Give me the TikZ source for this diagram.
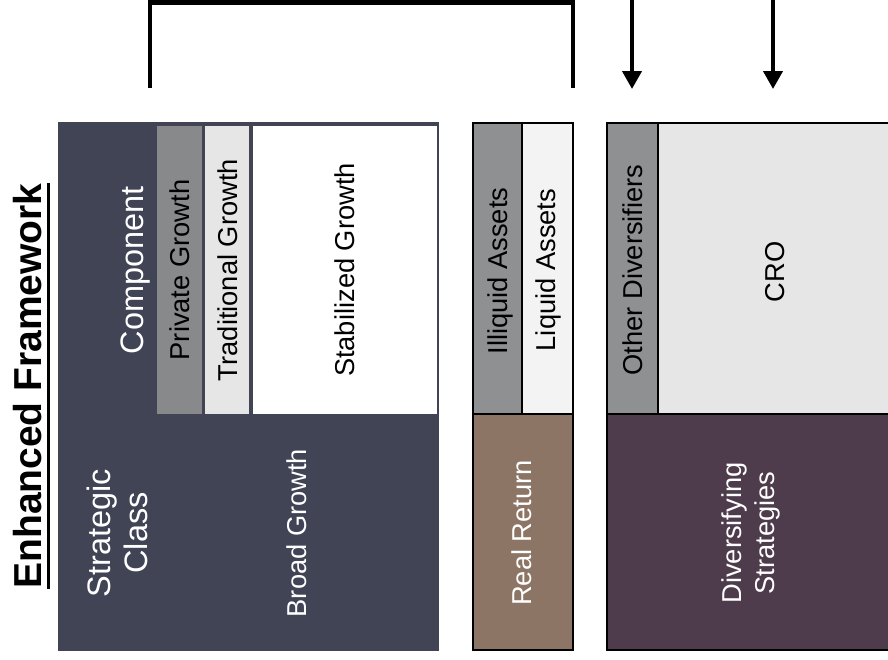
\documentclass[tikz,border=0pt]{standalone}
\usepackage{fontspec}
\setmainfont{Liberation Sans}
\usetikzlibrary{arrows.meta}
\definecolor{slate}{HTML}{404455}
\definecolor{midgray}{HTML}{8E9092}
\definecolor{speck}{HTML}{E6E6E6}
\definecolor{brownrr}{HTML}{8C7565}
\definecolor{plum}{HTML}{4E3B4B}
\begin{document}
\begin{tikzpicture}[x=1pt,y=-1pt,
  lbl/.style={rotate=90,inner sep=0pt,align=center,font=\fontsize{27.3}{33}\selectfont},
  biglbl/.style={rotate=90,inner sep=0pt,align=center,font=\fontsize{32.5}{37}\selectfont},
  frame/.style={draw=black,line width=2.6pt},
  brack/.style={line width=4.5pt,line cap=butt},
  arr/.style={line width=4pt,-{Triangle[length=18pt,width=19pt]}}]
\clip (0,0) rectangle (888,659);
\fill[white] (0,0) rectangle (888,659);
% title
\node[rotate=90,inner sep=0pt,font=\fontsize{39}{44}\selectfont\bfseries] (title) at (28,386) {Enhanced Framework};
\coordinate (u1) at ([xshift=6pt]title.south west);
\coordinate (u2) at ([xshift=6pt]title.south east);
\draw[line width=2.4pt] (u1) -- (u2);
% broad growth block
\fill[slate] (58,122) rectangle (439,651);
\fill[midgray!95!black] (157,126) rectangle (202,414);
\fill[speck] (205,126) rectangle (249,414);
\fill[white] (253,126) rectangle (437,414);
\node[biglbl,text=white] (comp) at (136,270) {Component};
\node[lbl,text=black] (pg) at (179.5,270) {Private Growth};
\node[lbl,text=black] (tg) at (227.5,270) {Traditional Growth};
\node[lbl,text=black] (sg) at (345,270) {Stabilized Growth};
\node[biglbl,text=white] (sc) at (117,533) {Strategic\\Class};
\node[lbl,text=white] (bg) at (297,533) {Broad Growth};
% real return column
\fill[midgray] (473,123) rectangle (522,414);
\fill[speck!50!white] (522,123) rectangle (573,414);
\fill[brownrr] (473,414) rectangle (573,650);
\draw[frame] (473,123) rectangle (573,650);
\draw[frame] (473,414) -- (573,414);
\draw[frame] (522,123) -- (522,414);
\node[lbl,text=black] (ia) at (500,271) {Illiquid Assets};
\node[lbl,text=black] (la) at (548,270) {Liquid Assets};
\node[lbl,text=white] (rr) at (522,533) {Real Return};
% diversifying column
\fill[midgray] (607,123) rectangle (658,414);
\fill[speck] (658,123) rectangle (900,414);
\fill[plum] (607,414) rectangle (900,650);
\draw[frame] (607,123) rectangle (900,650);
\draw[frame] (607,414) -- (900,414);
\draw[frame] (658,123) -- (658,414);
\node[lbl,text=black] (od) at (633,270) {Other Diversifiers};
\node[lbl,text=black] (cro) at (775,272) {CRO};
\node[lbl,text=white] (ds) at (751,533) {Diversifying\\Strategies};
% bracket and arrows
\coordinate (b1) at (150,88);
\coordinate (b2) at (150,2.5);
\coordinate (b3) at (573,2.5);
\coordinate (b4) at (573,88);
\draw[brack] (b1) -- (b2) -- (b3) -- (b4);
\coordinate (a1s) at (632,-2);
\coordinate (a1e) at (632,89);
\coordinate (a2s) at (773,-2);
\coordinate (a2e) at (773,89);
\draw[arr] (a1s) -- (a1e);
\draw[arr] (a2s) -- (a2e);
\end{tikzpicture}
\end{document}
